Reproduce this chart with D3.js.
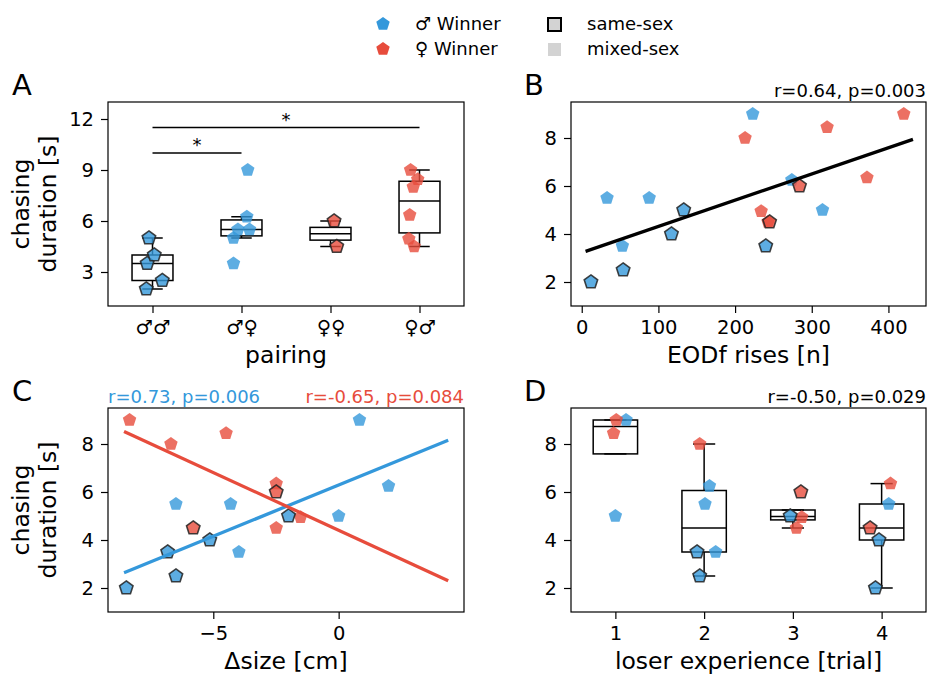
<!DOCTYPE html>
<html>
<head>
<meta charset="utf-8">
<script src="https://cdn.jsdelivr.net/npm/d3@7"></script>
<style>
    body { margin: 0; background: #fff; }
    svg { font-family: "DejaVu Sans", sans-serif; }
</style>
</head>
<body>
<svg id="chart" width="927" height="675"></svg>
<script>
// one entry per trial (19 trials)
const winner   = ["m","m","m","m","m","m","m","m","m","m","m","f","f","f","f","f","f","f","f"];
const sameSex  = [1,1,1,1,1,0,0,0,0,0,0,0,0,0,0,0,0,1,1];
const chasing  = [2.0,2.5,3.5,4.0,5.0,5.5,5.5,3.5,9.0,6.25,5.0,9.0,8.45,8.0,6.35,4.95,4.5,6.0,4.5];
const eodfRises = [12,54,240,117,133,33,88,53,223,274,314,420,320,213,372,234,243,284,245];
const dSize    = [-8.47,-6.49,-6.82,-5.14,-2.0,-6.49,-4.31,-3.98,0.83,1.99,0.0,-8.34,-4.49,-6.69,-2.49,-1.52,-2.49,-2.49,-5.8];
const loserTrial = [4,2,2,4,3,2,4,2,1,2,1,1,1,2,4,3,3,3,4];
const pairing  = [0,0,0,0,0,1,1,1,1,1,1,3,3,3,3,3,3,2,2];
// horizontal scatter offsets as seen in the figure
const jitterA  = [-0.07,0.11,-0.06,0.02,-0.04,-0.04,0.09,-0.09,0.07,0.06,-0.09,-0.10,-0.02,-0.07,-0.11,-0.12,-0.06,0.04,0.07];
const jitterD  = [-0.07,-0.05,-0.08,-0.03,-0.03,0.01,0.08,0.13,0.12,0.06,0.0,0.01,-0.02,-0.05,0.10,0.10,0.04,0.09,-0.13];

const pairingLabels = ["\u2642\u2642", "\u2642\u2640", "\u2640\u2640", "\u2640\u2642"];
const trialLabels = [1, 2, 3, 4];
const sigFrom = [0, 0];
const sigTo = [1, 3];
const sigLevel = [10, 11.5];
const statsB = "r=0.64, p=0.003";
const statsCm = "r=0.73, p=0.006";
const statsCf = "r=-0.65, p=0.084";
const statsD = "r=-0.50, p=0.029";
const fitRangeB = [5, 432];
const fitRangeC = [-8.56, 4.37];

const blue = "#3498db", red = "#e74c3c";
const color = (w) => (w === "m" ? blue : red);

const svg = d3.select("#chart");
svg.append("rect").attr("width", 927).attr("height", 675).attr("fill", "#fff");

// pentagon marker for d3.symbol
const pentagon = {
    draw(ctx, size) {
        const r = Math.sqrt(size);
        for (let i = 0; i < 5; i++) {
            const a = -Math.PI / 2 + (i * 2 * Math.PI) / 5;
            const px = r * Math.cos(a), py = r * Math.sin(a);
            if (i === 0) ctx.moveTo(px, py);
            else ctx.lineTo(px, py);
        }
        ctx.closePath();
    },
};
const marker = d3.symbol().type(pentagon).size(50);

const tickFont = 19.5, labelFont = 23.5, textFont = 18;

const makeAxes = (box, x, y, xTicks, yTicks, xFormat, yFormat) => {
    const g = svg.append("g");
    g.append("g")
        .attr("transform", `translate(0,${box.y1})`)
        .call(d3.axisBottom(x).tickValues(xTicks).tickFormat(xFormat).tickSize(7).tickPadding(7))
        .call((a) => a.select(".domain").remove());
    g.append("g")
        .attr("transform", `translate(${box.x0},0)`)
        .call(d3.axisLeft(y).tickValues(yTicks).tickFormat(yFormat).tickSize(7).tickPadding(7))
        .call((a) => a.select(".domain").remove());
    g.selectAll(".tick text")
        .attr("font-family", "DejaVu Sans")
        .attr("font-size", tickFont)
        .attr("fill", "#000");
    g.selectAll(".tick line").attr("stroke", "#000").attr("stroke-width", 1.2);
    return g;
};

const frame = (box) => {
    svg.append("rect")
        .attr("x", box.x0).attr("y", box.y0)
        .attr("width", box.x1 - box.x0).attr("height", box.y1 - box.y0)
        .attr("fill", "none").attr("stroke", "#000").attr("stroke-width", 1.2);
};

const yLabel = (box) => {
    const cy = (box.y0 + box.y1) / 2;
    const t = svg.append("text")
        .attr("transform", `translate(0,${cy}) rotate(-90)`)
        .attr("text-anchor", "middle")
        .attr("font-size", labelFont);
    t.append("tspan").attr("x", 0).attr("y", 29).text("chasing");
    t.append("tspan").attr("x", 0).attr("y", 56).text("duration [s]");
};

const xLabel = (box, text) => {
    svg.append("text")
        .attr("x", (box.x0 + box.x1) / 2).attr("y", box.y1 + 57)
        .attr("text-anchor", "middle").attr("font-size", labelFont)
        .text(text);
};

const panelLetter = (x, y, s) => {
    svg.append("text").attr("x", x).attr("y", y).attr("font-size", 29).text(s);
};

const boxStats = (vals) => {
    const s = vals.slice().sort(d3.ascending);
    const q1 = d3.quantileSorted(s, 0.25), med = d3.quantileSorted(s, 0.5), q3 = d3.quantileSorted(s, 0.75);
    const iqr = q3 - q1;
    const hi = Math.max(d3.max(s.filter((v) => v <= q3 + 1.5 * iqr)), q3);
    const lo = Math.min(d3.min(s.filter((v) => v >= q1 - 1.5 * iqr)), q1);
    return { q1, med, q3, lo, hi };
};

const drawBox = (g, x, y, pos, vals, width) => {
    const b = boxStats(vals);
    const cx = x(pos);
    const half = (x(pos + width / 2) - x(pos - width / 2)) / 2;
    const capHalf = half / 2;
    const line = (x1, y1, x2, y2) =>
        g.append("line").attr("x1", x1).attr("y1", y1).attr("x2", x2).attr("y2", y2)
            .attr("stroke", "#000").attr("stroke-width", 1.5);
    g.append("rect")
        .attr("x", cx - half).attr("y", y(b.q3))
        .attr("width", 2 * half).attr("height", y(b.q1) - y(b.q3))
        .attr("fill", "none").attr("stroke", "#000").attr("stroke-width", 1.5);
    line(cx - half, y(b.med), cx + half, y(b.med));
    line(cx, y(b.q3), cx, y(b.hi));
    line(cx, y(b.q1), cx, y(b.lo));
    line(cx - capHalf, y(b.hi), cx + capHalf, y(b.hi));
    line(cx - capHalf, y(b.lo), cx + capHalf, y(b.lo));
};

const idx = d3.range(chasing.length);
// mixed-sex first, same-sex drawn on top
const order = idx.filter((i) => !sameSex[i]).concat(idx.filter((i) => sameSex[i]));

const drawPoints = (g, xVal, x, y) => {
    g.selectAll("path.pt")
        .data(order)
        .enter()
        .append("path")
        .attr("class", "pt")
        .attr("d", marker)
        .attr("transform", (i) => `translate(${x(xVal(i))},${y(chasing[i])})`)
        .attr("fill", (i) => color(winner[i]))
        .attr("fill-opacity", 0.8)
        .attr("stroke", (i) => (sameSex[i] ? "#222" : "none"))
        .attr("stroke-opacity", 0.85)
        .attr("stroke-width", 1.6);
};

const linFit = (xs, ys) => {
    const mx = d3.mean(xs), my = d3.mean(ys);
    const slope = d3.sum(xs, (v, k) => (v - mx) * (ys[k] - my)) / d3.sum(xs, (v) => (v - mx) * (v - mx));
    return (v) => my + slope * (v - mx);
};

const fitLine = (g, x, y, f, range, col) => {
    g.append("line")
        .attr("x1", x(range[0])).attr("y1", y(f(range[0])))
        .attr("x2", x(range[1])).attr("y2", y(f(range[1])))
        .attr("stroke", col).attr("stroke-width", 3.3);
};

// Panel A: chasing duration by pairing
const boxA = { x0: 108, x1: 464, y0: 102, y1: 306 };
const xA = d3.scaleLinear().domain([-0.5, 3.5]).range([boxA.x0, boxA.x1]);
const yA = d3.scaleLinear().domain([1, 13]).range([boxA.y1, boxA.y0]);
const gA = svg.append("g");
pairingLabels.forEach((lab, k) => {
    drawBox(gA, xA, yA, k, idx.filter((i) => pairing[i] === k).map((i) => chasing[i]), 0.46);
});
drawPoints(gA, (i) => pairing[i] + jitterA[i], xA, yA);
sigFrom.forEach((f, k) => {
    gA.append("line")
        .attr("x1", xA(f)).attr("x2", xA(sigTo[k]))
        .attr("y1", yA(sigLevel[k])).attr("y2", yA(sigLevel[k]))
        .attr("stroke", "#000").attr("stroke-width", 1.5);
    gA.append("text")
        .attr("x", xA((f + sigTo[k]) / 2)).attr("y", yA(sigLevel[k]) - 2)
        .attr("text-anchor", "middle").attr("font-size", textFont)
        .text("*");
});
frame(boxA);
makeAxes(boxA, xA, yA, [0, 1, 2, 3], [3, 6, 9, 12], (d) => pairingLabels[d], d3.format("d"));
yLabel(boxA);
xLabel(boxA, "pairing");
panelLetter(12, 95, "A");

// Panel B: chasing vs EODf rises
const boxB = { x0: 571, x1: 926, y0: 102, y1: 306 };
const xB = d3.scaleLinear().domain([-14, 449]).range([boxB.x0, boxB.x1]);
const yB = d3.scaleLinear().domain([1, 9.5]).range([boxB.y1, boxB.y0]);
const gB = svg.append("g");
drawPoints(gB, (i) => eodfRises[i], xB, yB);
fitLine(gB, xB, yB, linFit(eodfRises, chasing), fitRangeB, "#000");
frame(boxB);
makeAxes(boxB, xB, yB, [0, 100, 200, 300, 400], [2, 4, 6, 8], d3.format("d"), d3.format("d"));
xLabel(boxB, "EODf rises [n]");
panelLetter(524, 95, "B");
svg.append("text").attr("x", boxB.x1).attr("y", 97).attr("text-anchor", "end")
    .attr("font-size", textFont).text(statsB);

// Panel C: chasing vs size difference
const boxC = { x0: 108, x1: 464, y0: 408, y1: 612 };
const xC = d3.scaleLinear().domain([-9.2, 5.0]).range([boxC.x0, boxC.x1]);
const yC = d3.scaleLinear().domain([1, 9.5]).range([boxC.y1, boxC.y0]);
const gC = svg.append("g");
drawPoints(gC, (i) => dSize[i], xC, yC);
["m", "f"].forEach((w) => {
    const sel = idx.filter((i) => winner[i] === w);
    fitLine(gC, xC, yC, linFit(sel.map((i) => dSize[i]), sel.map((i) => chasing[i])), fitRangeC, color(w));
});
frame(boxC);
makeAxes(boxC, xC, yC, [-5, 0], [2, 4, 6, 8], d3.format("d"), d3.format("d"));
yLabel(boxC);
xLabel(boxC, "\u0394size [cm]");
panelLetter(12, 401, "C");
svg.append("text").attr("x", boxC.x0).attr("y", 403).attr("font-size", textFont)
    .attr("fill", blue).text(statsCm);
svg.append("text").attr("x", boxC.x1).attr("y", 403).attr("text-anchor", "end")
    .attr("font-size", textFont).attr("fill", red).text(statsCf);

// Panel D: chasing vs loser experience
const boxD = { x0: 571, x1: 926, y0: 408, y1: 612 };
const xD = d3.scaleLinear().domain([0.5, 4.5]).range([boxD.x0, boxD.x1]);
const yD = d3.scaleLinear().domain([1, 9.5]).range([boxD.y1, boxD.y0]);
const gD = svg.append("g");
trialLabels.forEach((t) => {
    drawBox(gD, xD, yD, t, idx.filter((i) => loserTrial[i] === t).map((i) => chasing[i]), 0.5);
});
drawPoints(gD, (i) => loserTrial[i] + jitterD[i], xD, yD);
frame(boxD);
makeAxes(boxD, xD, yD, trialLabels, [2, 4, 6, 8], d3.format("d"), d3.format("d"));
xLabel(boxD, "loser experience [trial]");
panelLetter(524, 401, "D");
svg.append("text").attr("x", boxD.x1).attr("y", 403).attr("text-anchor", "end")
    .attr("font-size", textFont).text(statsD);

// Legend
const legend = svg.append("g").attr("font-size", textFont);
["m", "f"].forEach((w, k) => {
    legend.append("path").attr("d", marker)
        .attr("transform", `translate(383,${24 + k * 25})`)
        .attr("fill", color(w));
    legend.append("text").attr("x", 415).attr("y", 30 + k * 25)
        .text((w === "m" ? "\u2642" : "\u2640") + " Winner");
});
["same-sex", "mixed-sex"].forEach((lab, k) => {
    legend.append("rect").attr("x", 548).attr("y", 18 + k * 25)
        .attr("width", 13).attr("height", 13)
        .attr("fill", "#d3d3d3")
        .attr("stroke", k === 0 ? "#000" : "none").attr("stroke-width", 2);
    legend.append("text").attr("x", 587).attr("y", 30 + k * 25).text(lab);
});
</script>
</body>
</html>
